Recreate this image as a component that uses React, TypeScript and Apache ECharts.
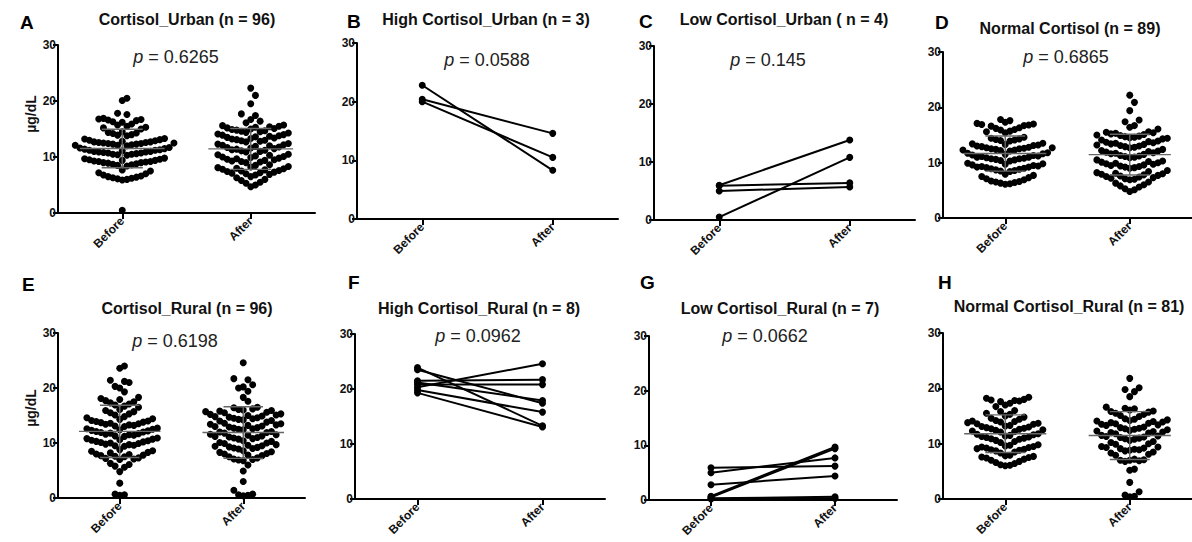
import React, { useEffect, useRef } from 'react';
import * as echarts from 'echarts';

// ---------- DATA ----------
const groupLabels = ['Before', 'After'];

// Panel A: Cortisol_Urban (n = 96)
const urbanBefore = [
  0.5,
  5.9, 6.0, 6.1, 6.2, 6.3, 6.4, 6.5, 6.6, 6.8, 7.0, 7.2, 7.5, 7.7,
  8.4, 8.5, 8.6, 8.7, 8.8, 8.9, 9.0, 9.0, 9.1, 9.2, 9.2, 9.3, 9.4, 9.4, 9.5, 9.6, 9.7, 9.8,
  10.3, 10.4, 10.5, 10.5, 10.6, 10.7, 10.7, 10.8, 10.9, 10.9, 11.0, 11.0, 11.1, 11.2, 11.2, 11.3, 11.4, 11.5, 11.6, 11.7,
  12.0, 12.1, 12.1, 12.2, 12.3, 12.3, 12.4, 12.4, 12.5, 12.5, 12.6, 12.6, 12.7, 12.7, 12.8, 12.9, 13.0, 13.1, 13.2, 13.3,
  13.8, 13.9, 14.0, 14.2, 14.3, 14.4, 14.5,
  15.0, 15.2, 15.3, 15.5, 15.7, 15.9,
  16.2, 16.3, 16.5, 16.6, 16.7, 16.8, 16.9,
  17.6, 17.8,
  20.1, 20.5,
];
const urbanAfter = [
  4.7, 5.0, 5.3, 5.5, 5.8, 6.0, 6.3, 6.5,
  6.8, 6.9, 7.0, 7.1, 7.2, 7.3, 7.4, 7.5, 7.6, 7.7, 7.8, 7.9, 8.0, 8.1, 8.2, 8.3, 8.5, 8.6,
  9.0, 9.1, 9.2, 9.3, 9.4, 9.5, 9.6, 9.7, 9.8, 9.9, 10.0, 10.1, 10.2, 10.3, 10.4, 10.5,
  10.9, 11.0, 11.1, 11.2, 11.3, 11.4, 11.5, 11.6, 11.7, 11.8, 11.9, 12.0, 12.1, 12.2, 12.3, 12.4,
  12.7, 12.8, 12.9, 13.0, 13.1, 13.2, 13.3, 13.4, 13.5, 13.6, 13.7, 13.8, 13.9, 14.0, 14.1,
  14.3, 14.4, 14.5, 14.6, 14.7, 14.8, 14.9, 15.0, 15.1, 15.2, 15.3, 15.4, 15.5, 15.6, 15.7,
  16.1, 16.4, 16.7,
  17.4, 17.7,
  19.5, 21.0, 22.3,
];

// Panel B: High Cortisol_Urban (n = 3)
const highUrbanBefore = [22.8, 20.4, 20.0];
const highUrbanAfter = [8.3, 14.6, 10.5];

// Panel C: Low Cortisol_Urban (n = 4)
const lowUrbanBefore = [6.0, 5.9, 5.0, 0.5];
const lowUrbanAfter = [13.8, 6.4, 5.7, 10.8];

// Panel D: Normal Cortisol (n = 89)
const normalUrbanBefore = [
  6.1, 6.2, 6.3, 6.4, 6.5, 6.6, 6.7, 6.9, 7.1, 7.3, 7.5, 7.7, 7.9,
  8.4, 8.5, 8.6, 8.7, 8.8, 8.9, 9.0, 9.1, 9.2, 9.2, 9.3, 9.4, 9.5, 9.6, 9.7, 9.8, 9.9,
  10.3, 10.4, 10.5, 10.6, 10.7, 10.7, 10.8, 10.9, 11.0, 11.0, 11.1, 11.2, 11.3, 11.4, 11.5, 11.6, 11.7, 11.8,
  12.1, 12.2, 12.3, 12.3, 12.4, 12.5, 12.5, 12.6, 12.7, 12.7, 12.8, 12.9, 13.0, 13.1, 13.2, 13.3, 13.4, 13.5,
  13.9, 14.0, 14.1, 14.2, 14.3, 14.4, 14.6,
  15.4, 15.6, 15.7, 15.9, 16.0, 16.2, 16.3,
  16.6, 16.7, 16.8, 16.9, 17.0, 17.1, 17.3, 17.6, 17.8,
];
const normalUrbanAfter = [
  4.8, 5.1, 5.3, 5.6, 5.8, 6.0, 6.3, 6.5,
  6.9, 7.0, 7.1, 7.2, 7.3, 7.4, 7.5, 7.6, 7.7, 7.8, 7.9, 8.0, 8.1, 8.2, 8.4, 8.6,
  9.0, 9.1, 9.2, 9.3, 9.4, 9.5, 9.6, 9.7, 9.8, 9.9, 10.0, 10.1, 10.2, 10.3, 10.5,
  10.9, 11.0, 11.1, 11.2, 11.3, 11.5, 11.6, 11.7, 11.8, 11.9, 12.0, 12.1, 12.2, 12.4,
  12.7, 12.8, 12.9, 13.0, 13.1, 13.2, 13.3, 13.4, 13.5, 13.6, 13.7, 13.8, 13.9, 14.1,
  14.3, 14.4, 14.5, 14.6, 14.7, 14.8, 14.9, 15.0, 15.1, 15.2, 15.3, 15.4, 15.5, 15.6,
  16.1, 16.4, 16.7,
  17.4, 17.7,
  19.4, 20.9, 22.2,
];

// Panel E: Cortisol_Rural (n = 96)
const ruralBefore = [
  0.5, 0.6, 0.7, 2.7, 4.8, 5.6, 5.8, 6.1, 6.3,
  7.0, 7.1, 7.2, 7.3, 7.5, 7.6, 7.7, 7.8, 7.9, 8.0, 8.2, 8.3, 8.5, 8.6, 8.8,
  9.4, 9.5, 9.6, 9.7, 9.8, 9.9, 10.0, 10.1, 10.2, 10.3, 10.4, 10.5, 10.6, 10.7, 10.8, 10.9,
  11.2, 11.3, 11.4, 11.5, 11.6, 11.7, 11.8, 11.9, 12.0, 12.1, 12.2, 12.3, 12.4, 12.5, 12.6, 12.7,
  13.0, 13.1, 13.2, 13.3, 13.4, 13.5, 13.6, 13.7, 13.8, 13.9, 14.0, 14.1, 14.3, 14.4, 14.6, 14.8,
  15.1, 15.3, 15.5, 15.7, 15.9, 16.1,
  16.5, 16.7, 16.9, 17.1, 17.3, 17.5, 17.7, 17.9, 18.1, 18.3,
  19.3, 20.0, 20.3,
  21.0, 21.2, 21.4,
  23.6, 24.0,
];
const ruralAfter = [
  0.4, 0.5, 0.6, 0.7, 1.4, 3.0, 4.9, 6.0,
  6.8, 6.9, 7.0, 7.1, 7.3, 7.5, 7.7, 7.8, 8.0, 8.1, 8.3, 8.4, 8.6,
  8.9, 9.0, 9.1, 9.2, 9.3, 9.4, 9.5, 9.6, 9.7, 9.9, 10.0, 10.1, 10.3, 10.4,
  10.7, 10.8, 10.9, 11.0, 11.1, 11.2, 11.3, 11.4, 11.5, 11.6, 11.8, 11.9, 12.0, 12.1,
  12.4, 12.5, 12.6, 12.7, 12.8, 12.9, 13.0, 13.1, 13.2, 13.3, 13.4, 13.5, 13.6, 13.8,
  14.0, 14.1, 14.2, 14.3, 14.4, 14.5, 14.6, 14.7, 14.8, 14.9, 15.0, 15.1, 15.2, 15.3,
  15.5, 15.6, 15.7, 15.8, 15.9, 16.0, 16.1, 16.2, 16.4, 16.5,
  17.6, 18.3, 19.4, 20.0, 20.2, 20.6, 21.5, 21.7, 24.6,
];

// Panel F: High Cortisol_Rural (n = 8)
const highRuralBefore = [23.9, 23.5, 21.5, 21.2, 20.8, 20.3, 19.8, 19.3];
const highRuralAfter = [13.3, 17.4, 21.7, 17.9, 20.8, 24.6, 15.8, 13.1];

// Panel G: Low Cortisol_Rural (n = 7)
const lowRuralBefore = [5.9, 5.0, 2.8, 0.7, 0.5, 0.3, 0.2];
const lowRuralAfter = [6.2, 7.7, 4.4, 9.7, 9.4, 0.6, 0.3];

// Panel H: Normal Cortisol_Rural (n = 81)
const normalRuralBefore = [
  6.0, 6.1, 6.2, 6.4, 6.6, 6.8, 7.0, 7.2, 7.4, 7.5, 7.6, 7.7, 7.8, 7.9,
  8.3, 8.5, 8.7, 8.8, 8.9, 9.0, 9.1, 9.2, 9.3, 9.4, 9.5, 9.6, 9.7, 9.8,
  10.2, 10.4, 10.6, 10.8, 10.9, 11.0, 11.1, 11.2, 11.3, 11.4, 11.5, 11.6, 11.7, 11.8,
  12.1, 12.2, 12.3, 12.4, 12.5, 12.6, 12.7, 12.8, 12.9, 13.0, 13.1, 13.2, 13.3,
  13.5, 13.6, 13.7, 13.8, 13.9, 14.0, 14.1, 14.2, 14.4, 14.6, 14.8, 15.0, 15.3,
  15.5, 15.8, 16.0,
  16.7, 17.0, 17.3,
  17.6, 17.7, 17.8, 17.9, 18.0, 18.2, 18.4,
];
const normalRuralAfter = [
  0.4, 0.5, 0.7, 1.3, 3.0, 5.2, 5.4,
  6.8, 6.9, 7.0, 7.0, 7.1, 7.2,
  7.9, 8.1, 8.3, 8.5, 8.7, 8.8, 8.9, 9.0, 9.1, 9.2, 9.3, 9.4, 9.5,
  9.9, 10.0, 10.2, 10.4, 10.6, 10.8, 10.9, 11.0, 11.1, 11.2, 11.3, 11.4, 11.5,
  11.8, 11.9, 12.0, 12.1, 12.2, 12.3, 12.4, 12.5, 12.6, 12.7, 12.8, 12.9, 13.0,
  13.3, 13.4, 13.5, 13.6, 13.7, 13.8, 13.9, 14.0, 14.1, 14.2, 14.3, 14.4, 14.5,
  14.9, 15.1, 15.3, 15.5, 15.7, 15.8, 15.9, 16.1, 16.3, 16.4, 16.6,
  18.5, 19.4, 19.8, 20.1, 21.8,
];

const panelLetters = ['A', 'B', 'C', 'D', 'E', 'F', 'G', 'H'];
const panelTitles = [
  'Cortisol_Urban (n = 96)',
  'High Cortisol_Urban (n = 3)',
  'Low Cortisol_Urban ( n = 4)',
  'Normal Cortisol (n = 89)',
  'Cortisol_Rural (n = 96)',
  'High Cortisol_Rural (n = 8)',
  'Low Cortisol_Rural (n = 7)',
  'Normal Cortisol_Rural (n = 81)',
];
const pValues: (string | null)[] = ['0.6265', '0.0588', '0.145', '0.6865', '0.6198', '0.0962', '0.0662', null];
const yAxisTitle = 'µg/dL';

const panelData: { kind: 'swarm' | 'paired'; before: number[]; after: number[] }[] = [
  { kind: 'swarm', before: urbanBefore, after: urbanAfter },
  { kind: 'paired', before: highUrbanBefore, after: highUrbanAfter },
  { kind: 'paired', before: lowUrbanBefore, after: lowUrbanAfter },
  { kind: 'swarm', before: normalUrbanBefore, after: normalUrbanAfter },
  { kind: 'swarm', before: ruralBefore, after: ruralAfter },
  { kind: 'paired', before: highRuralBefore, after: highRuralAfter },
  { kind: 'paired', before: lowRuralBefore, after: lowRuralAfter },
  { kind: 'swarm', before: normalRuralBefore, after: normalRuralAfter },
];

// ---------- LAYOUT ----------
const grids = [
  { left: 58, top: 45, width: 257, height: 168 },
  { left: 357, top: 43, width: 261, height: 176 },
  { left: 654, top: 46, width: 261, height: 174 },
  { left: 943, top: 52, width: 249, height: 166 },
  { left: 58, top: 333, width: 247, height: 165 },
  { left: 355, top: 334, width: 250, height: 165 },
  { left: 649, top: 336, width: 248, height: 164 },
  { left: 943, top: 333, width: 249, height: 166 },
];
const letterPos = [[20, 22], [347, 21], [639, 21], [935, 22], [22, 284], [348, 282], [640, 282], [938, 282]];
const titlePos = [[187, 19], [486, 19], [784, 19], [1070, 28], [187, 308], [479, 308], [780, 308], [1069, 306]];
const pPos = [[176, 57], [487, 60], [768, 60], [1066, 57], [175, 341], [478, 336], [765, 336], [0, 0]];
const yTitlePos = [[31, 114], [31, 408]];

const FONT = '"Liberation Sans", Arial, Helvetica, sans-serif';
const SLOT_PX = 4.7;
const ROW_PX = 9.5;
const DOT = 7;

function swarm(values: number[], center: number, pxX: number, pxY: number): number[][] {
  const sorted = [...values].sort((a, b) => a - b);
  const taken = new Map<number, number[]>();
  const pts: number[][] = [];
  for (const v of sorted) {
    const y = v * pxY;
    for (let i = 0; i < 400; i++) {
      const k = i === 0 ? 0 : i % 2 ? (i + 1) / 2 : -i / 2;
      const list = taken.get(k) || [];
      if (list.every((yy) => Math.abs(yy - y) >= ROW_PX)) {
        list.push(y);
        taken.set(k, list);
        pts.push([center + (k * SLOT_PX) / pxX, v]);
        break;
      }
    }
  }
  return pts;
}

function meanSd(values: number[]): [number, number] {
  const n = values.length;
  const m = values.reduce((s, v) => s + v, 0) / n;
  const sd = Math.sqrt(values.reduce((s, v) => s + (v - m) * (v - m), 0) / (n - 1));
  return [m, sd];
}

export default function App() {
  const ref = useRef<HTMLDivElement>(null);

  useEffect(() => {
    document.body.style.margin = '0';
    if (!ref.current) return;
    const chart = echarts.init(ref.current, undefined, { renderer: 'svg' });

    const xAxis: any[] = [];
    const yAxis: any[] = [];
    const series: any[] = [];

    grids.forEach((g, i) => {
      xAxis.push({
        gridIndex: i,
        type: 'value',
        min: 0.5,
        max: 2.5,
        axisLine: { show: true, onZero: false, lineStyle: { color: '#000', width: 2 } },
        axisTick: { show: true, customValues: [1, 2], length: 6, lineStyle: { color: '#000', width: 2 } },
        axisLabel: {
          show: true,
          customValues: [1, 2],
          formatter: (v: number) => (Math.abs(v - 1) < 0.01 ? groupLabels[0] : groupLabels[1]),
          rotate: 45,
          fontSize: 12,
          fontWeight: 'bold',
          fontFamily: FONT,
          color: '#111',
          margin: 6,
        },
        splitLine: { show: false },
      });
      yAxis.push({
        gridIndex: i,
        type: 'value',
        min: 0,
        max: 30,
        interval: 10,
        axisLine: { show: true, lineStyle: { color: '#000', width: 2 } },
        axisTick: { show: true, length: 5, lineStyle: { color: '#000', width: 2 } },
        axisLabel: { fontSize: 12, fontWeight: 'bold', fontFamily: FONT, color: '#111', margin: 2 },
        splitLine: { show: false },
      });

      const pd = panelData[i];
      if (pd.kind === 'swarm') {
        const pxX = g.width / 2;
        const pxY = g.height / 30;
        const pts = [...swarm(pd.before, 1, pxX, pxY), ...swarm(pd.after, 2, pxX, pxY)];
        series.push({
          type: 'scatter',
          xAxisIndex: i,
          yAxisIndex: i,
          data: pts,
          symbol: 'circle',
          symbolSize: DOT,
          itemStyle: { color: '#000', opacity: 1 },
          silent: true,
          z: 2,
        });
        const [mb, sb] = meanSd(pd.before);
        const [ma, sa] = meanSd(pd.after);
        series.push({
          type: 'custom',
          xAxisIndex: i,
          yAxisIndex: i,
          data: [
            [1, mb, sb],
            [2, ma, sa],
          ],
          silent: true,
          z: 3,
          renderItem: (params: any, api: any) => {
            const x = api.value(0);
            const m = api.value(1);
            const sd = api.value(2);
            const ln = (x1: number, y1: number, x2: number, y2: number, w: number) => {
              const a = api.coord([x1, y1]);
              const b = api.coord([x2, y2]);
              return {
                type: 'line',
                shape: { x1: a[0], y1: a[1], x2: b[0], y2: b[1] },
                style: { stroke: '#666', lineWidth: w },
              };
            };
            return {
              type: 'group',
              children: [
                ln(x - 0.33, m, x + 0.33, m, 1.4),
                ln(x - 0.16, m + sd, x + 0.16, m + sd, 1.4),
                ln(x - 0.16, m - sd, x + 0.16, m - sd, 1.4),
                ln(x, m - sd, x, m + sd, 1.4),
              ],
            };
          },
        });
      } else {
        pd.before.forEach((b, j) => {
          series.push({
            type: 'line',
            xAxisIndex: i,
            yAxisIndex: i,
            data: [
              [1, b],
              [2, pd.after[j]],
            ],
            symbol: 'circle',
            symbolSize: 7,
            showSymbol: true,
            lineStyle: { color: '#000', width: 2 },
            itemStyle: { color: '#000', opacity: 1 },
            silent: true,
            z: 2,
          });
        });
      }
    });

    const graphic: any[] = [];
    panelLetters.forEach((l, i) => {
      graphic.push({
        type: 'text',
        x: letterPos[i][0],
        y: letterPos[i][1],
        style: { text: l, fill: '#000', font: `bold 19px ${FONT}`, textAlign: 'left', textVerticalAlign: 'middle' },
      });
      graphic.push({
        type: 'text',
        x: titlePos[i][0],
        y: titlePos[i][1],
        style: {
          text: panelTitles[i],
          fill: '#111',
          font: `bold 16px ${FONT}`,
          textAlign: 'center',
          textVerticalAlign: 'middle',
        },
      });
      const p = pValues[i];
      if (p) {
        graphic.push({
          type: 'text',
          x: pPos[i][0],
          y: pPos[i][1],
          style: {
            text: `{i|p} = ${p}`,
            fill: '#222',
            font: `18px ${FONT}`,
            textAlign: 'center',
            textVerticalAlign: 'middle',
            rich: { i: { fontStyle: 'italic', fontSize: 18, fontFamily: FONT, fill: '#222' } },
          },
        });
      }
    });
    yTitlePos.forEach((pos) => {
      graphic.push({
        type: 'text',
        x: pos[0],
        y: pos[1],
        rotation: Math.PI / 2,
        style: {
          text: yAxisTitle,
          fill: '#111',
          font: `bold 14px ${FONT}`,
          textAlign: 'center',
          textVerticalAlign: 'middle',
        },
      });
    });

    chart.setOption({
      animation: false,
      backgroundColor: '#fff',
      grid: grids.map((g) => ({ ...g, containLabel: false })),
      xAxis,
      yAxis,
      series,
      graphic,
    });

    return () => chart.dispose();
  }, []);

  return <div ref={ref} style={{ width: 1192, height: 542 }} />;
}
